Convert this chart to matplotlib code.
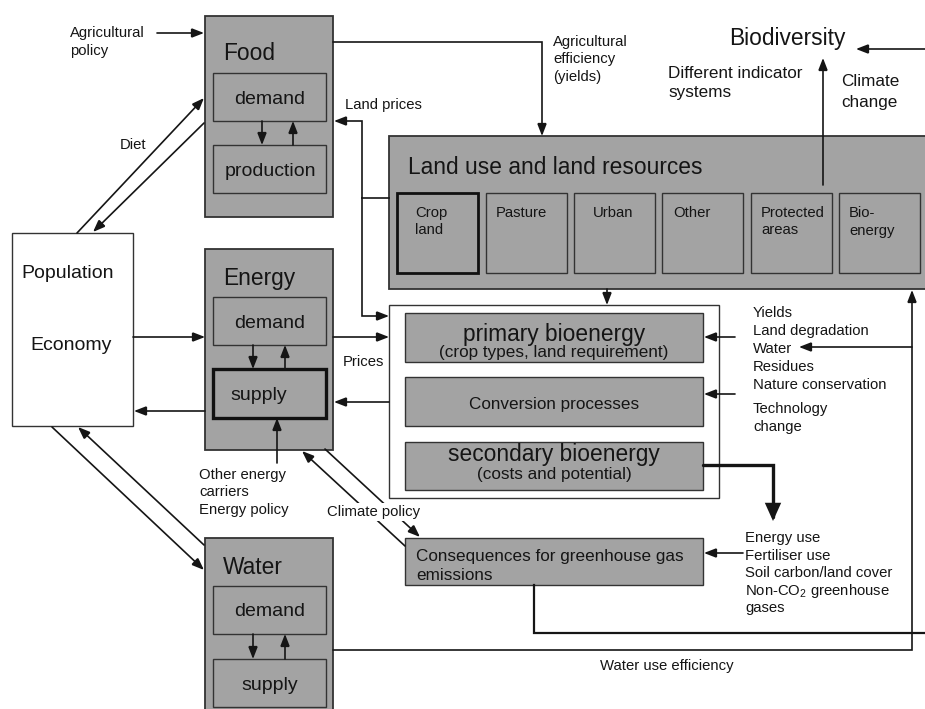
import matplotlib
matplotlib.use('Agg')
import matplotlib.pyplot as plt
from matplotlib.patches import Rectangle, FancyArrowPatch
from matplotlib.path import Path

plt.rcParams['font.family'] = ['Liberation Sans', 'DejaVu Sans']
plt.rcParams['mathtext.fontset'] = 'custom'
plt.rcParams['mathtext.rm'] = 'Liberation Sans'
plt.rcParams['mathtext.it'] = 'Liberation Sans:italic'

# ---------------- content ----------------
sectors = ['Food', 'Energy', 'Water']
food_parts = ['demand', 'production']
energy_parts = ['demand', 'supply']
water_parts = ['demand', 'supply']
driver_lines = ['Population', 'Economy']
land_use_title = 'Land use and land resources'
land_use_classes = ['Crop\nland', 'Pasture', 'Urban', 'Other', 'Protected\nareas', 'Bio-\nenergy']
bio_chain_titles = ['primary bioenergy', 'Conversion processes', 'secondary bioenergy']
bio_chain_subtitles = ['(crop types, land requirement)', '', '(costs and potential)']
bio_factors = ['Yields', 'Land degradation', 'Water', 'Residues', 'Nature conservation']
tech_factors = ['Technology', 'change']
ghg_title = ['Consequences for greenhouse gas', 'emissions']
ghg_factors = ['Energy use', 'Fertiliser use', 'Soil carbon/land cover',
               r'Non-CO$_2$ greenhouse', 'gases']
agri_policy = ['Agricultural', 'policy']
agri_eff = ['Agricultural', 'efficiency', '(yields)']
energy_inputs = ['Other energy', 'carriers', 'Energy policy']
biodiv_lines = ['Different indicator', 'systems']
climate_lines = ['Climate', 'change']
flow_labels = {'diet': 'Diet', 'land': 'Land prices', 'prices': 'Prices',
               'climate': 'Climate policy', 'water': 'Water use efficiency',
               'biodiv': 'Biodiversity'}

# ---------------- style ----------------
GRAY = '#a3a3a3'
EDGE = '#333333'
INK = '#151515'
BIG, MID, BODY, SMALL = 16.4, 14, 12.3, 10.7

fig = plt.figure(figsize=(9.25, 7.09), dpi=100)
ax = fig.add_axes([0, 0, 1, 1])
ax.set_xlim(0, 925)
ax.set_ylim(709, 0)
ax.axis('off')


def box(x0, y0, x1, y1, fc=GRAY, lw=1.0, ec=EDGE, z=1):
    ax.add_patch(Rectangle((x0, y0), x1 - x0, y1 - y0, fc=fc, ec=ec, lw=lw, zorder=z))


def txt(x, y, s, size=SMALL, ha='left', va='center', bg=False, z=5):
    kw = {}
    if bg:
        kw['bbox'] = dict(fc='white', ec='none', pad=1.5)
    ax.text(x, y, s, fontsize=size, ha=ha, va=va, color=INK, zorder=z, **kw)


def arrow(pts, lw=1.2, ms=8, hl=0.9, hw=0.35):
    p = FancyArrowPatch(path=Path(pts),
                        arrowstyle=f'-|>,head_length={hl},head_width={hw}',
                        mutation_scale=ms, lw=lw, color=INK,
                        shrinkA=0, shrinkB=0, zorder=4, joinstyle='miter')
    ax.add_patch(p)


def line(pts, lw=1.2):
    xs, ys = zip(*pts)
    ax.plot(xs, ys, color=INK, lw=lw, zorder=3, solid_joinstyle='miter')


# ---------------- sector boxes ----------------
sector_tops = [(16, 217), (249, 450), (538, 720)]
sector_inner = [[(73, 121), (145, 193)], [(297, 345), (369, 418)], [(586, 634), (659, 707)]]
sector_parts = [food_parts, energy_parts, water_parts]
title_y = [53, 278, 568]
arrow_x = [(262, 293), (253, 285), (253, 285)]
for i, name in enumerate(sectors):
    t, b = sector_tops[i]
    box(205, t, 333, b, lw=1.3)
    txt(223, title_y[i], name, size=BIG)
    for j, (it, ib) in enumerate(sector_inner[i]):
        thick = (i == 1 and j == 1)
        box(213, it, 326, ib, lw=2.4 if thick else 1.0, ec='#111111' if thick else EDGE, z=2)
        label = sector_parts[i][j]
        if thick:
            txt(230, (it + ib) / 2 + 2, label, size=MID)
        else:
            txt(270, (it + ib) / 2 + 2, label, size=MID, ha='center')
    (it1, ib1), (it2, ib2) = sector_inner[i]
    dx, ux = arrow_x[i]
    arrow([(dx, ib1), (dx, it2)])
    arrow([(ux, it2), (ux, ib1)])

# Population / economy
box(12, 233, 133, 426, fc='white', lw=1.0)
txt(68, 273, driver_lines[0], size=MID, ha='center')
txt(71, 346, driver_lines[1], size=MID, ha='center')

# ---------------- land use ----------------
box(389, 136, 935, 289, lw=1.3)
txt(408, 167, land_use_title, size=BIG)
lu_x = [397, 486, 574, 662, 751, 839]
lu_off = [18, 10, 19, 11, 10, 10]
for k, lab in enumerate(land_use_classes):
    x0 = lu_x[k]
    box(x0, 193, x0 + 81, 273, lw=2.0 if k == 0 else 1.0,
        ec='#111111' if k == 0 else EDGE, z=2)
    for n, part in enumerate(lab.split('\n')):
        txt(x0 + lu_off[k], 213 + 17.5 * n, part, size=SMALL)

# ---------------- bioenergy chain ----------------
box(389, 305, 719, 498, fc='white', lw=1.0)
chain_y = [(313, 362), (377, 426), (442, 490)]
for k, (t, b) in enumerate(chain_y):
    box(405, t, 703, b, lw=1.0, z=2)
    if bio_chain_subtitles[k]:
        txt(554, t + 22 if k == 0 else t + 13, bio_chain_titles[k], size=BIG, ha='center')
        txt(554, t + 40 if k == 0 else t + 32, bio_chain_subtitles[k], size=BODY, ha='center')
    else:
        txt(554, (t + b) / 2 + 3, bio_chain_titles[k], size=BODY, ha='center')

# GHG box
box(405, 538, 703, 585, lw=1.0)
txt(416, 557, ghg_title[0], size=BODY)
txt(416, 576, ghg_title[1], size=BODY)

# ---------------- free text ----------------
for n, s in enumerate(agri_policy):
    txt(70, 33 + 18 * n, s)
txt(120, 145, flow_labels['diet'])
txt(345, 105, flow_labels['land'])
for n, s in enumerate(agri_eff):
    txt(553, 42 + 17.5 * n, s)
txt(729, 39, flow_labels['biodiv'], size=BIG)
for n, s in enumerate(biodiv_lines):
    txt(668, 73 + 20 * n, s, size=BODY)
for n, s in enumerate(climate_lines):
    txt(841, 82 + 20 * n, s, size=BODY)
txt(343, 362, flow_labels['prices'])
for n, s in enumerate(bio_factors):
    txt(753, 313 + 18 * n, s)
for n, s in enumerate(tech_factors):
    txt(753, 409 + 18 * n, s)
for n, s in enumerate(energy_inputs):
    txt(199, 475 + 17.5 * n, s)
txt(327, 512, flow_labels['climate'], bg=True)
for n, s in enumerate(ghg_factors):
    txt(745, 538 + 17.6 * n, s)
txt(667, 666, flow_labels['water'], ha='center')

# ---------------- arrows ----------------
arrow([(157, 33), (204, 33)])
arrow([(333, 42), (542, 42), (542, 136)])
line([(389, 198), (362, 198)])
arrow([(362, 198), (362, 121), (334, 121)])
arrow([(362, 198), (362, 316), (389, 316)])
arrow([(77, 233), (204, 98)])
arrow([(204, 123), (93, 232)])
arrow([(133, 337), (205, 337)])
arrow([(205, 411), (134, 411)])
arrow([(333, 337), (389, 337)])
arrow([(389, 402), (334, 402)])
arrow([(277, 463), (277, 418)])
arrow([(52, 427), (204, 570)])
arrow([(204, 545), (78, 427)])
arrow([(405, 546), (302, 451)])
arrow([(325, 449), (420, 537)])
arrow([(607, 289), (607, 305)])
arrow([(823, 185), (823, 58)])
arrow([(925, 49), (856, 49)])
arrow([(735, 337), (704, 337)])
arrow([(735, 394), (704, 394)])
arrow([(912, 347), (799, 347)])
arrow([(333, 650), (912, 650), (912, 290)])
arrow([(703, 465), (773, 465), (773, 521)], lw=2.4, ms=9, hl=1.0, hw=0.45)
arrow([(743, 553), (704, 553)])
line([(534, 585), (534, 633), (925, 633)], lw=1.6)

fig.savefig('out.png', dpi=100)
